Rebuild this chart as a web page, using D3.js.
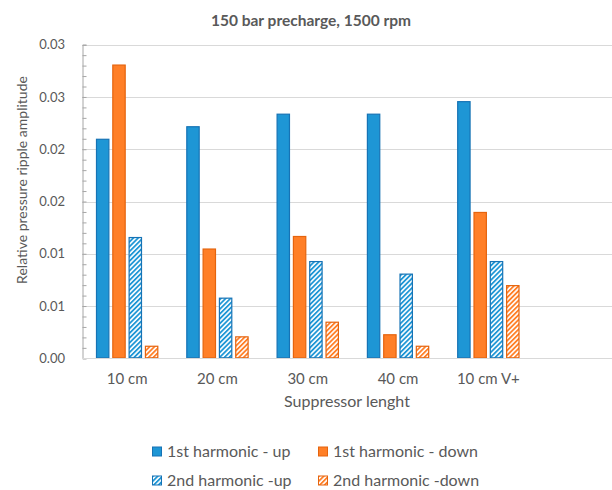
<!DOCTYPE html>
<html>
<head>
<meta charset="utf-8">
<script src="https://cdn.jsdelivr.net/npm/d3@7/dist/d3.min.js"></script>
<style>
  html, body { margin: 0; padding: 0; background: #fff; }
  svg { display: block; font-family: Lato, "Open Sans", sans-serif; }
</style>
</head>
<body>
<svg id="chart" width="612" height="490"></svg>
<script>
// ---- data ----
const categories = ["10 cm", "20 cm", "30 cm", "40 cm", "10 cm V+"];
const seriesNames = ["1st harmonic - up", "1st harmonic - down", "2nd harmonic -up", "2nd harmonic -down"];
const firstUp   = [0.0210, 0.0222, 0.0234, 0.0234, 0.0246];
const firstDown = [0.0281, 0.0105, 0.0117, 0.0023, 0.0140];
const secondUp  = [0.0116, 0.0058, 0.0093, 0.0081, 0.0093];
const secondDown= [0.0012, 0.0021, 0.0035, 0.0012, 0.0070];
const yTickValues = [0, 0.005, 0.01, 0.015, 0.02, 0.025, 0.03];
const yTickLabels = ["0.00", "0.01", "0.01", "0.02", "0.02", "0.03", "0.03"];
const title = "150 bar precharge, 1500 rpm";
const xTitle = "Suppressor lenght";
const yTitle = "Relative pressure ripple amplitude";

const seriesValues = [firstUp, firstDown, secondUp, secondDown];

// ---- styles ----
const BLUE = "#1e96d5", BLUE_S = "#1673b5";
const ORANGE = "#ff7f27", ORANGE_S = "#e5640e";
const TEXT = "#595959";
const styles = [
  { fill: BLUE, stroke: BLUE_S },
  { fill: ORANGE, stroke: ORANGE_S },
  { fill: "url(#hatchBlue)", stroke: BLUE_S },
  { fill: "url(#hatchOrange)", stroke: ORANGE_S }
];

const svg = d3.select("#chart");
const defs = svg.append("defs");
function hatch(id, color) {
  const p = defs.append("pattern").attr("id", id)
    .attr("patternUnits", "userSpaceOnUse")
    .attr("width", 3.4).attr("height", 3.4)
    .attr("patternTransform", "rotate(45)");
  p.append("rect").attr("width", 3.4).attr("height", 3.4).attr("fill", "#fff");
  p.append("rect").attr("x", 0).attr("y", 0).attr("width", 1.8).attr("height", 3.4).attr("fill", color);
}
hatch("hatchBlue", BLUE);
hatch("hatchOrange", ORANGE);

const plotLeft = 82, plotRight = 612, plotTop = 44.7, plotBottom = 358.3;

const y = d3.scaleLinear().domain([0, 0.03]).range([plotBottom, plotTop]);
const x0 = d3.scaleBand().domain(categories)
  .range([plotLeft, plotLeft + 90.3 * categories.length])
  .paddingInner(0.31).paddingOuter(0.155);
const x1 = d3.scaleBand().domain(d3.range(seriesNames.length))
  .range([0, x0.bandwidth()]).paddingInner(0.18);

// gridlines
svg.append("g").selectAll("line").data(yTickValues).join("line")
  .attr("x1", plotLeft).attr("x2", plotRight)
  .attr("y1", d => Math.round(y(d)) + 0.5).attr("y2", d => Math.round(y(d)) + 0.5)
  .attr("stroke", "#d9d9d9").attr("stroke-width", 1);

// y axis with minor ticks
const minor = d3.range(0, 31).map(i => i / 1000);
const yAxisG = svg.append("g").attr("transform", `translate(${plotLeft + 0.5},0)`)
  .call(d3.axisRight(y).tickValues(minor).tickSize(4).tickFormat(""));
yAxisG.select(".domain").attr("stroke", "#a6a6a6");
yAxisG.selectAll(".tick line").attr("stroke", "#a6a6a6");

// y tick labels
svg.append("g").selectAll("text").data(yTickValues).join("text")
  .attr("x", 65).attr("y", d => y(d)).attr("dy", "0.35em")
  .attr("text-anchor", "end").attr("fill", TEXT).attr("font-size", 13)
  .text((d, i) => yTickLabels[i]);

// bars
const groups = svg.append("g").selectAll("g").data(categories).join("g")
  .attr("transform", d => `translate(${x0(d)},0)`);
groups.selectAll("rect")
  .data((c, ci) => seriesValues.map((vals, si) => ({ si, v: vals[ci] })))
  .join("rect")
  .attr("x", d => x1(d.si) + 0.5)
  .attr("y", d => y(d.v) + 0.5)
  .attr("width", x1.bandwidth() - 1)
  .attr("height", d => Math.max(0, y(0) - y(d.v) - 1))
  .attr("fill", d => styles[d.si].fill)
  .attr("stroke", d => styles[d.si].stroke)
  .attr("stroke-width", 1.2);

// x axis baseline
svg.append("line").attr("x1", plotLeft).attr("x2", plotRight)
  .attr("y1", Math.round(plotBottom) + 0.5).attr("y2", Math.round(plotBottom) + 0.5)
  .attr("stroke", "#d9d9d9");

// x labels
const xAxisG = svg.append("g").attr("transform", `translate(0,${plotBottom})`)
  .call(d3.axisBottom(x0).tickSize(0).tickPadding(0));
xAxisG.select(".domain").remove();
xAxisG.selectAll("text").attr("y", 0).attr("dy", 0)
  .attr("transform", "translate(0,26)")
  .attr("fill", TEXT).attr("font-size", 15).attr("font-family", "Lato, sans-serif");

// titles
svg.append("text").attr("x", 311).attr("y", 26).attr("text-anchor", "middle")
  .attr("font-weight", "bold").attr("font-size", 15.5).attr("fill", TEXT).text(title);
svg.append("text").attr("x", 347).attr("y", 406.5).attr("text-anchor", "middle")
  .attr("font-size", 16).attr("fill", TEXT).text(xTitle);
svg.append("text").attr("transform", "translate(27,180) rotate(-90)").attr("text-anchor", "middle")
  .attr("font-size", 14).attr("fill", TEXT).text(yTitle);

// legend
const legendPos = [[152, 456.5], [318, 456.5], [152, 485.5], [318, 485.5]];
const leg = svg.append("g").selectAll("g").data(seriesNames).join("g")
  .attr("transform", (d, i) => `translate(${legendPos[i][0]},${legendPos[i][1]})`);
leg.append("rect").attr("x", 0.5).attr("y", -9.5).attr("width", 9).attr("height", 9)
  .attr("fill", (d, i) => styles[i].fill).attr("stroke", (d, i) => styles[i].stroke).attr("stroke-width", 1);
leg.append("text").attr("x", 15).attr("y", 0).attr("font-size", 16).attr("fill", TEXT).text(d => d);
</script>
</body>
</html>
